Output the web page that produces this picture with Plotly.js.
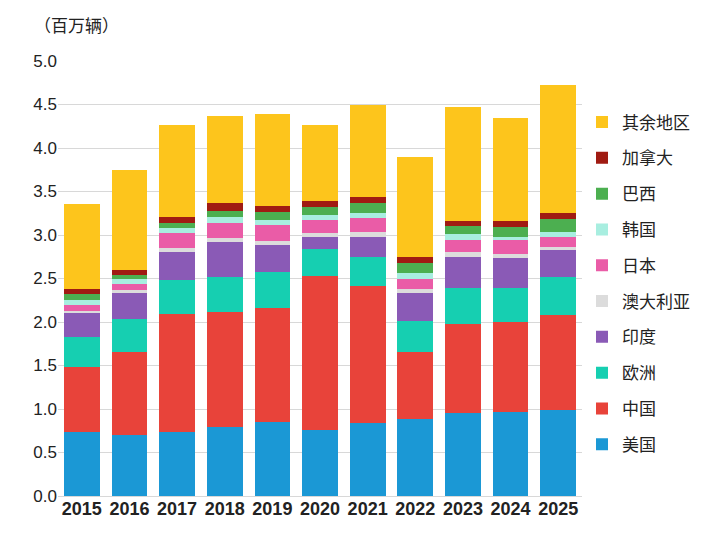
<!DOCTYPE html>
<html><head><meta charset="utf-8">
<script src="https://cdn.plot.ly/plotly-3.0.1.min.js"></script>
<style>body{margin:0}#chart{width:707px;height:556px}</style>
</head><body><div id="chart"></div>
<script>
const years = ["2015","2016","2017","2018","2019","2020","2021","2022","2023","2024","2025"];
const usa       = [0.73,0.70,0.73,0.79,0.85,0.76,0.84,0.89,0.95,0.97,0.99];
const china     = [0.75,0.95,1.36,1.33,1.31,1.77,1.57,0.76,1.03,1.03,1.09];
const europe    = [0.35,0.38,0.39,0.40,0.41,0.31,0.34,0.36,0.41,0.39,0.44];
const india     = [0.27,0.30,0.32,0.40,0.32,0.14,0.23,0.32,0.36,0.35,0.31];
const australia = [0.03,0.04,0.05,0.05,0.04,0.04,0.05,0.05,0.05,0.04,0.03];
const japan     = [0.06,0.07,0.17,0.17,0.18,0.15,0.16,0.12,0.14,0.16,0.12];
const korea     = [0.06,0.06,0.06,0.07,0.06,0.06,0.06,0.06,0.07,0.04,0.05];
const brazil    = [0.07,0.04,0.06,0.07,0.10,0.09,0.12,0.12,0.09,0.11,0.15];
const canada    = [0.06,0.06,0.07,0.09,0.06,0.07,0.07,0.07,0.06,0.07,0.07];
const rest      = [0.98,1.15,1.06,1.00,1.06,0.88,1.05,1.15,1.31,1.18,1.47];

const series = [
  ["美国", usa, "#1b98d5"],
  ["中国", china, "#e8433a"],
  ["欧洲", europe, "#16cfb1"],
  ["印度", india, "#8a5ab6"],
  ["澳大利亚", australia, "#dcdcdc"],
  ["日本", japan, "#ea5ca7"],
  ["韩国", korea, "#a8eee0"],
  ["巴西", brazil, "#4caf50"],
  ["加拿大", canada, "#a01b12"],
  ["其余地区", rest, "#fdc51c"]
];

const traces = series.map(([name, vals, color], i) => ({
  type: "bar", name: name, x: years, y: vals, legendgroup: name,
  legendrank: series.length - i,
  marker: { color: color }, hoverinfo: "name+y"
}));

const layout = {
  width: 707, height: 556,
  barmode: "stack", bargap: 0.25,
  font: { family: "Noto Sans CJK SC, Liberation Sans, sans-serif", color: "#222" },
  paper_bgcolor: "#fff", plot_bgcolor: "#fff",
  margin: { l: 58, r: 122, t: 61, b: 60 },
  xaxis: { type: "category", tickfont: { size: 18, family: "Liberation Sans, sans-serif", weight: "bold" }, showline: false, ticks: "" },
  yaxis: {
    range: [0, 5], dtick: 0.5, tickformat: ".1f",
    tickfont: { size: 17, family: "Liberation Sans, sans-serif" },
    gridcolor: "#d8d8d8", zeroline: true, zerolinecolor: "#d8d8d8"
  },
  showlegend: true,
  legend: {
    traceorder: "grouped", x: 1.0, xanchor: "left", y: 0.9, yanchor: "top",
    font: { size: 17 }, tracegroupgap: 10.7, itemwidth: 30
  },
  annotations: [{
    text: "（百万辆）", xref: "paper", yref: "paper", x: -0.05, y: 1.05,
    xanchor: "left", yanchor: "bottom", showarrow: false, font: { size: 17 }
  }]
};

Plotly.newPlot("chart", traces, layout, { displayModeBar: false });
</script></body></html>
